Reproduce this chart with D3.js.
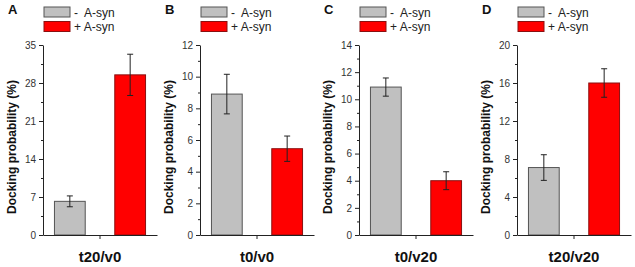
<!DOCTYPE html>
<html>
<head>
<meta charset="utf-8">
<script src="https://cdn.jsdelivr.net/npm/d3@7"></script>
<style>
  html, body { margin: 0; padding: 0; background: #fff; }
  svg { display: block; font-family: "Liberation Sans", Arial, sans-serif; }
</style>
</head>
<body>
<svg id="chart" width="635" height="267"></svg>
<script>
// ---- data ----
const categories   = ["t20/v0", "t0/v0", "t0/v20", "t20/v20"];
const panelLetters = ["A", "B", "C", "D"];
const seriesNames  = ["-  A-syn", "+ A-syn"];
const minusValues  = [6.2, 8.9, 10.9, 7.1];
const minusErrors  = [1.0, 1.25, 0.67, 1.35];
const plusValues   = [29.5, 5.45, 4.0, 16.0];
const plusErrors   = [3.8, 0.8, 0.66, 1.5];
const yMaxValues   = [35, 12, 14, 20];
const yStepValues  = [7, 2, 2, 4];
const yLabel = "Docking probability (%)";

// ---- layout ----
const svg = d3.select("#chart");
const axisLeftX = [43, 200, 359, 517];
const plotW = 114;
const plotTop = 45, plotBottom = 235;
const fills = ["#c0c0c0", "#ff0000"];
const strokes = ["#555555", "#8a1010"];

categories.forEach((cat, i) => {
  const g = svg.append("g").attr("transform", `translate(${axisLeftX[i]},0)`);
  const y = d3.scaleLinear().domain([0, yMaxValues[i]]).range([plotBottom, plotTop]);
  const xCat = d3.scaleBand().domain([cat]).range([0, plotW]);
  const xSeries = d3.scaleBand().domain(seriesNames).range([0, plotW])
    .paddingInner(0.49).paddingOuter(0.19);

  const vals = [minusValues[i], plusValues[i]];
  const errs = [minusErrors[i], plusErrors[i]];
  const rows = seriesNames.map((s, k) => ({ s, v: vals[k], e: errs[k], k }));

  // bars
  g.selectAll("rect.bar").data(rows).join("rect")
    .attr("class", "bar")
    .attr("x", d => xSeries(d.s))
    .attr("width", xSeries.bandwidth())
    .attr("y", d => y(d.v))
    .attr("height", d => y(0) - y(d.v))
    .attr("fill", d => fills[d.k])
    .attr("stroke", d => strokes[d.k])
    .attr("stroke-width", 1);

  // error bars
  const eb = g.selectAll("g.err").data(rows).join("g").attr("class", "err")
    .attr("stroke", "#222").attr("stroke-width", 1);
  eb.append("line")
    .attr("x1", d => xSeries(d.s) + xSeries.bandwidth() / 2)
    .attr("x2", d => xSeries(d.s) + xSeries.bandwidth() / 2)
    .attr("y1", d => y(d.v - d.e)).attr("y2", d => y(d.v + d.e));
  ["+", "-"].forEach(sign => {
    eb.append("line")
      .attr("x1", d => xSeries(d.s) + xSeries.bandwidth() / 2 - 3)
      .attr("x2", d => xSeries(d.s) + xSeries.bandwidth() / 2 + 3)
      .attr("y1", d => y(sign === "+" ? d.v + d.e : d.v - d.e))
      .attr("y2", d => y(sign === "+" ? d.v + d.e : d.v - d.e));
  });

  // y axis minor ticks
  const minorTicks = d3.range(yStepValues[i] / 2, yMaxValues[i], yStepValues[i]);
  g.append("g")
    .call(d3.axisLeft(y).tickValues(minorTicks).tickSize(2).tickFormat(""))
    .call(a => a.select(".domain").remove())
    .selectAll("line").attr("stroke", "#222");

  // y axis major
  const yAxis = g.append("g")
    .call(d3.axisLeft(y).tickValues(d3.range(0, yMaxValues[i] + 0.001, yStepValues[i]))
      .tickSize(4).tickSizeOuter(0).tickPadding(3));
  yAxis.select(".domain").attr("stroke", "#222");
  yAxis.selectAll("line").attr("stroke", "#222");
  yAxis.selectAll("text").attr("font-size", 10).attr("fill", "#333")
    .attr("font-family", "Liberation Sans, Arial, sans-serif");

  // x axis
  const xAxis = g.append("g").attr("transform", `translate(0,${plotBottom})`)
    .call(d3.axisBottom(xCat).tickSize(4).tickSizeOuter(0).tickPadding(12));
  xAxis.select(".domain").attr("stroke", "#222");
  xAxis.selectAll("line").attr("stroke", "#222");
  xAxis.selectAll("text").attr("font-size", 15).attr("font-weight", "bold")
    .attr("fill", "#111").attr("font-family", "Liberation Sans, Arial, sans-serif");

  // y label
  g.append("text")
    .attr("transform", `translate(-27,${147}) rotate(-90)`)
    .attr("text-anchor", "middle")
    .attr("font-size", 12).attr("font-weight", "bold").attr("fill", "#111")
    .text(yLabel);

  // panel letter
  g.append("text").attr("x", -35).attr("y", 14)
    .attr("font-size", 13).attr("font-weight", "bold").attr("fill", "#111")
    .text(panelLetters[i]);

  // legend
  const lg = g.selectAll("g.leg").data(rows).join("g").attr("class", "leg")
    .attr("transform", d => `translate(1,${7 + d.k * 14.5})`);
  lg.append("rect").attr("width", 26).attr("height", 10)
    .attr("fill", d => fills[d.k]).attr("stroke", d => strokes[d.k]);
  lg.append("text").attr("x", 30).attr("y", 9.5)
    .attr("font-size", 12).attr("fill", "#222")
    .style("white-space", "pre")
    .text(d => d.s);
});
</script>
</body>
</html>
